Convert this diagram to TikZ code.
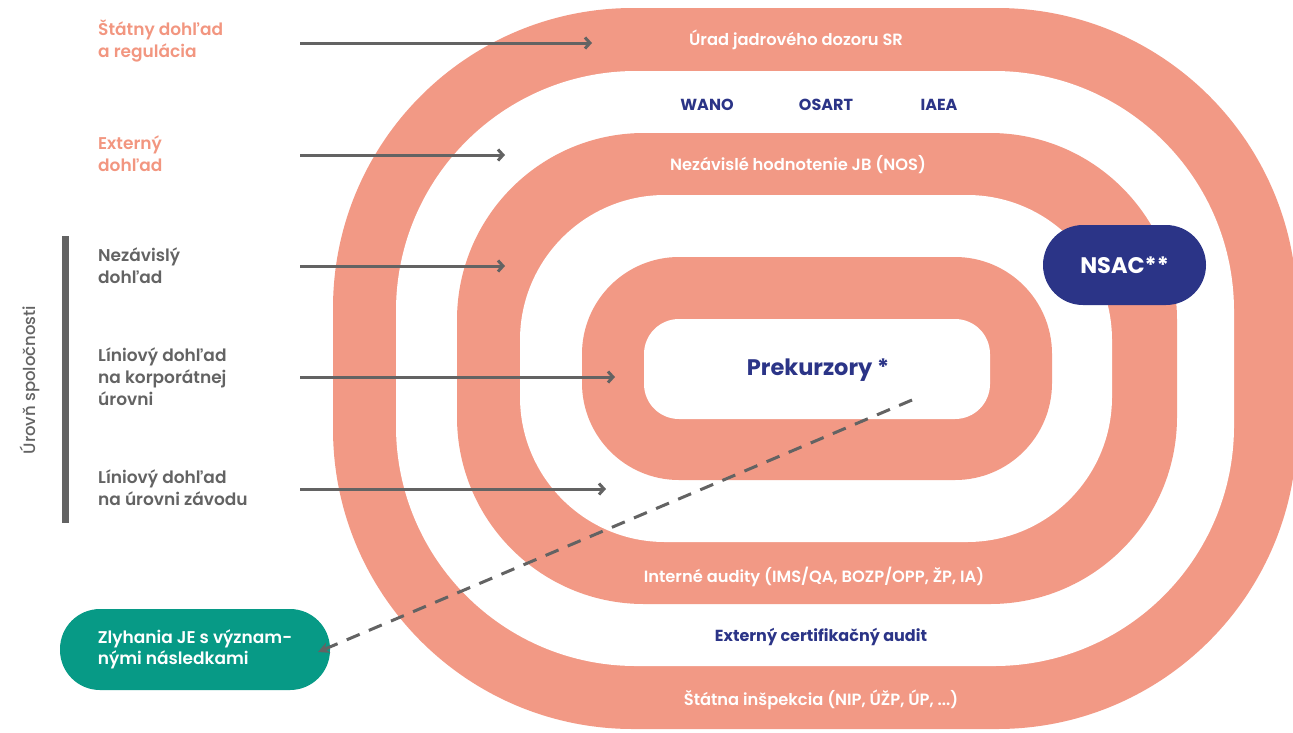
\documentclass[tikz,border=0pt]{standalone}
\usepackage{fontspec}
\setmainfont{Poppins}[UprightFont=* SemiBold, BoldFont=* Bold]
\newfontfamily\regfont{Poppins}[UprightFont=* Medium]
\usetikzlibrary{arrows.meta}
\definecolor{salmon}{RGB}{242,153,133}
\definecolor{salmontxt}{RGB}{242,150,128}
\definecolor{navy}{RGB}{43,52,135}
\definecolor{teal}{RGB}{7,154,134}
\definecolor{dgray}{RGB}{99,99,99}
\begin{document}
\begin{tikzpicture}[x=1pt,y=-1pt,
  lbl/.style={inner sep=0pt, font=\fontsize{17}{22}\selectfont, align=left, anchor=west},
  ringtxt/.style={inner sep=0pt, font=\fontsize{16.3}{18}\selectfont, text=white},
  navytxt/.style={inner sep=0pt, font=\fontsize{16}{18}\bfseries\selectfont, text=navy},
  arr/.style={draw=dgray, line width=3pt, -{Straight Barb[length=5pt,width=11pt]}},
  pill/.style={rounded corners=40pt, inner sep=0pt, text=white}]
\useasboundingbox (0,0) rectangle (1293,732);
% rings
\fill[salmon, rounded corners=300pt] (333,8) rectangle (1297,729);
\fill[white, rounded corners=240pt] (396,71) rectangle (1234,666);
\fill[salmon, rounded corners=187pt] (457,133) rectangle (1177,604);
\fill[white, rounded corners=145pt] (520,195) rectangle (1112,542);
\fill[salmon, rounded corners=97pt] (582,257) rectangle (1052,480);
\fill[white, rounded corners=35pt] (644,319) rectangle (990,419);
% ring labels
\node[ringtxt] (udj) at (796,40) {Úrad jadrového dozoru SR};
\node[navytxt] (wano) at (707,105) {WANO};
\node[navytxt] (osart) at (826,105) {OSART};
\node[navytxt] (iaea) at (939,105) {IAEA};
\node[ringtxt] (nos) at (798,165) {Nezávislé hodnotenie JB (NOS)};
\node[inner sep=0pt, font=\fontsize{22.5}{24}\bfseries\selectfont, text=navy] (prek) at (818,370) {Prekurzory *};
\node[ringtxt] (ia) at (814,577) {Interné audity (IMS/QA, BOZP/OPP, ŽP, IA)};
\node[navytxt] (eca) at (821,637) {Externý certifikačný audit};
\node[ringtxt] (si) at (821,700) {Štátna inšpekcia (NIP, ÚŽP, ÚP, ...)};
% left labels
\node[lbl, text=salmontxt] (l1) at (98,41) {Štátny dohľad\\a regulácia};
\node[lbl, text=salmontxt] (l2) at (98,154) {Externý\\dohľad};
\node[lbl, text=dgray] (l3) at (98,266) {Nezávislý\\dohľad};
\node[lbl, text=dgray] (l4) at (98,377) {Líniový dohľad\\na korporátnej\\úrovni};
\node[lbl, text=dgray] (l5) at (98,488) {Líniový dohľad\\na úrovni závodu};
\fill[dgray] (62,236) rectangle (69,523);
\node[inner sep=0pt, rotate=90, text=dgray, font=\regfont\fontsize{16.5}{18}\selectfont] (uroven) at (30,380) {Úrovň spoločnosti};
% arrows
\coordinate (s1) at (300,43); \coordinate (e1) at (592,43);
\coordinate (s2) at (300,155); \coordinate (e2) at (505,155);
\coordinate (s3) at (300,266); \coordinate (e3) at (505,266);
\coordinate (s4) at (300,377); \coordinate (e4) at (615,377);
\coordinate (s5) at (300,489); \coordinate (e5) at (606,489);
\draw[arr] (s1) -- (e1);
\draw[arr] (s2) -- (e2);
\draw[arr] (s3) -- (e3);
\draw[arr] (s4) -- (e4);
\draw[arr] (s5) -- (e5);
% boxes
\node[pill, fill=navy, minimum width=163pt, minimum height=80pt, font=\fontsize{22.5}{24}\bfseries\selectfont] (nsac) at (1124.5,265) {NSAC**};
\node[pill, fill=teal, minimum width=270pt, minimum height=81pt, align=left, font=\fontsize{17}{21}\selectfont] (zly) at (195,649.5) {Zlyhania JE s význam-\\nými následkami};
% dashed
\coordinate (ds) at (912,400);
\coordinate (de) at (318,652);
\draw[dgray, line width=3pt, dash pattern=on 14pt off 10pt, -{Stealth[length=11pt,width=11pt]}] (ds) -- (de);
\end{tikzpicture}
\end{document}
